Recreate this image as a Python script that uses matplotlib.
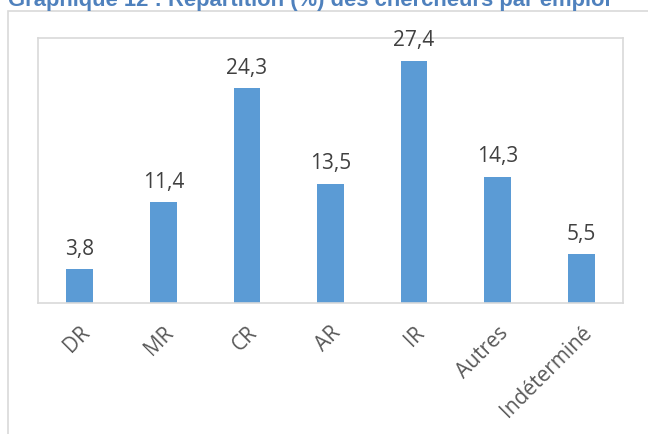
import matplotlib.pyplot as plt
from matplotlib.patches import Rectangle

plt.rcParams['font.family'] = ['Open Sans', 'DejaVu Sans']

# données
categories = ['DR', 'MR', 'CR', 'AR', 'IR', 'Autres', 'Indéterminé']
valeurs = [3.8, 11.4, 24.3, 13.5, 27.4, 14.3, 5.5]
titre = 'Graphique 12 : Répartition (%) des chercheurs par emploi'

W, H = 648, 434
fig = plt.figure(figsize=(W / 100, H / 100), dpi=100)

# cadre extérieur (zone du graphique), coupé à droite et en bas
fig.patches.append(Rectangle((8 / W, -0.1), 1.2, 1 - 11 / H + 0.1,
                             transform=fig.transFigure, fill=False,
                             edgecolor='#d9d9d9', linewidth=1.2))

# titre coupé en haut
fig.text(8 / W, 1 - 6 / H, titre, color='#4f81bd', fontsize=15.8,
         fontweight='bold', ha='left', va='baseline',
         family=['Liberation Sans', 'DejaVu Sans'])

ax = fig.add_axes([38 / W, 1 - 303 / H, (623 - 38) / W, (303 - 38) / H])
x = range(len(categories))
bars = ax.bar(x, valeurs, width=0.32, color='#5b9bd5')
ax.set_xlim(-0.5, len(categories) - 0.5)
ax.set_ylim(0, 30)

for b, v in zip(bars, valeurs):
    ax.annotate(f'{v:.1f}'.replace('.', ','),
                (b.get_x() + b.get_width() / 2, v),
                xytext=(0, 7), textcoords='offset points',
                ha='center', va='bottom', fontsize=15, color='#404040')

ax.set_yticks([])
ax.set_xticks(list(x))
ax.set_xticklabels(categories, rotation=45, ha='right',
                   rotation_mode='anchor', fontsize=15, color='#595959')
ax.tick_params(axis='x', length=0, pad=14)
for s in ax.spines.values():
    s.set_color('#d9d9d9')
    s.set_linewidth(1.2)

fig.savefig('out.png', dpi=100)
